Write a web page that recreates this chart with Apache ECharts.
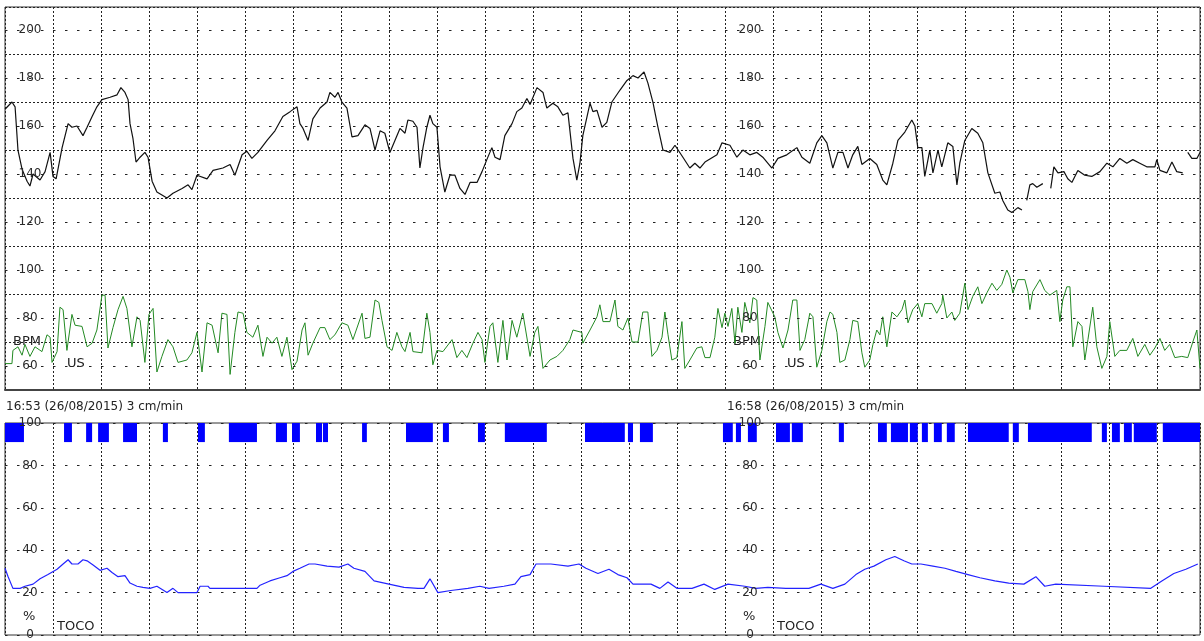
<!DOCTYPE html>
<html>
<head>
<meta charset="utf-8">
<script src="https://cdn.jsdelivr.net/npm/echarts@6.0.0/dist/echarts.min.js"></script>
<style>
html,body{margin:0;padding:0;background:#fff;}
#chart{width:1204px;height:641px;}
</style>
</head>
<body>
<div id="chart"></div>
<script>
// ---- data (time in seconds from 16:53, values in bpm / %) ----
const fhrTickLabels = [60, 80, 100, 120, 140, 160, 180, 200];
const tocoTickLabels = [0, 20, 40, 60, 80, 100];
const timeLabels = ['16:53 (26/08/2015) 3 cm/min', '16:58 (26/08/2015) 3 cm/min'];

const fhrPoints = [
[0,167],[2.9,170],[4.2,168],[5.4,150],[7.1,142],[9.2,137],[10.4,135],[11.7,140],[14.6,137.5],[16.7,141],
[18.8,149],[20,139],[21.3,138],[23.8,151],[26.3,161],[27.9,159.5],[30,160],[32.5,156],[34.2,159.5],[36.3,164],
[38.3,168],[40.4,171],[43.8,172],[46.7,173],[48.3,176],[50,174],[51.3,171],[52.1,161],[53.3,155],[54.6,145],
[56.3,147],[58.3,149],[59.6,147],[61.3,137],[63.3,132.5],[67.5,130],[70,132],[73.8,134],[76.3,135.5],[77.9,133.5],
[80,139.5],[84.2,138],[86.7,141.5],[90.8,142.5],[93.8,144],[95.8,139.5],[98.8,148],[100.8,149.5],[102.9,146.5],[105.4,149],
[109.2,154],[112.5,158],[115.8,164],[118.8,166],[121.7,168],[122.9,161],[124.2,159],[126.3,154],[128.3,163],[131.3,167.5],
[134.2,170],[135.4,174],[137.5,172],[138.8,174],[140.4,170],[142.5,167.5],[144.6,155.5],[147.1,156],[150,160.5],[152.1,159],
[154.2,150],[156.3,158],[158.3,157],[160.4,149],[162.5,154],[164.6,159],[166.7,157],[167.9,162.5],[170,162],[171.7,159.5],
[172.9,142.5],[174.2,151],[175.8,159.5],[177.1,164.5],[178.3,161],[180,159.5],[181.3,143],[183.3,132.5],[185.4,139.5],[187.5,139.5],
[189.6,134],[191.7,131.5],[193.8,136.5],[196.7,136.5],[198.8,141],[200.8,146],[202.9,151],[204.2,147],[206.3,146],[208.3,156],
[211.3,161],[213.3,166],[215.4,167.5],[217.5,171.5],[218.8,169],[221.7,176],[224.2,174],[225.8,167.5],[228.3,169.5],[230.4,168],
[232.5,164.5],[234.6,165.5],[236.7,146.5],[238.3,137.5],[239.6,144.5],[240.8,156],[243.8,169.5],[245,166],[246.7,166.5],[248.8,159.5],
[250.8,161.5],[252.9,170],[256.3,175],[259.2,179],[261.7,181],[263.8,180],[266.3,182.5],[267.9,178],[270,170],[272.1,159.5],
[274.2,150],[277.1,149],[279.2,152],[282.5,147],[285.4,142.5],[287.5,144.5],[289.6,142.5],[291.7,145],[296.7,148],[298.8,153],
[302.1,152],[305,147],[307.5,150],[310.4,148],[313.3,149],[315.8,147],[319.6,142.5],[322.1,146.5],[325.8,148],[330,151],
[332.1,147],[335.4,144.5],[338.3,153],[340.4,156],[342.5,153],[345,142.5],[347.1,149],[349.2,149],[351.3,142.5],[353.3,148],
[355.4,151.5],[357.1,144],[360.4,146.5],[363.3,144],[365.8,137.5],[367.5,135.5],[370,144.5],[372.1,154],[375,157.5],[377.9,162.5],
[379.2,160],[380.4,151],[382.1,151],[383.3,139],[385.4,150],[386.7,140.5],[388.8,150],[390.4,143],[392.9,153],[395,151.5],
[396.7,135.5],[397.9,144.5],[400,154],[402.9,159],[405.4,157],[407.5,153],[409.6,140.5],[412.5,132],[414.6,132.5],[415.8,129],
[417.9,125],[419.6,124],[422.1,126],[423.8,125],[425,null],[425.8,129],[427.1,135.5],[428.3,136],[430,134.5],[432.5,136],
[433.3,null],[435.8,134],[437.1,143],[438.8,140.5],[441.3,141],[442.9,138],[444.6,136.5],[447.1,141.5],[450,139.5],[452.9,139],
[456.3,141],[459.2,144.5],[461.7,143],[464.6,146.5],[467.5,144.5],[470,146],[472.9,144.5],[475.8,143],[479.2,143],[480,146],
[481.3,141.5],[484.2,140.5],[486.3,145],[488.3,141],[490.8,140.5],[491.7,null],[492.9,149],[494.6,146.5],[496.7,146.5],[498,149]
];

const usPoints = [
[0,61],[2.9,61],[3.3,66.5],[5.4,68],[7.1,64.5],[8.3,69],[10.4,64],[12.5,68],[15.4,66],[17.5,73],
[18.8,72],[19.6,61.5],[21.7,66],[22.9,84.5],[24.2,83.5],[25.8,66.5],[27.9,81.5],[29.2,77],[32.1,76.5],[34.2,68],
[36.3,69.5],[38.3,75],[40.4,89.5],[41.7,89.5],[42.9,67.5],[45,76],[47.1,83.5],[49.2,89],[50.8,84],[52.9,68],
[55,80.5],[56.3,79],[58.3,61.5],[60,81.5],[61.7,84],[63.3,57.5],[65.4,64],[67.9,71],[70,68],[72.1,61.5],
[75.8,62.5],[77.9,65.5],[80,74],[82.1,57.5],[84.2,78],[86.3,77],[88.8,65.5],[90.4,82],[92.5,81.5],[93.8,56.5],
[95.8,74],[97.1,82.5],[99.2,82],[100.8,74],[103.3,72],[105.4,77],[107.5,64],[109.2,72],[111.3,69.5],[113.3,72],
[115.4,64],[117.5,72],[119.6,58.5],[121.7,62],[123.8,75],[125,78],[126.3,64.5],[128.3,69.5],[131.3,76],[133.3,76],
[135.4,71],[137.5,73],[140.4,78],[142.9,77],[145,71],[148.8,82],[150,71.5],[152.1,72],[154.2,87.5],[155.8,86.5],
[157.1,79],[159.2,68],[161.3,66.5],[163.3,74],[165.4,68],[166.7,66],[168.8,74],[170,66],[173.8,65.5],[175.8,82],
[177.1,74],[178.3,60.5],[180,66.5],[182.5,66],[186.3,71],[188.3,63.5],[190.4,66.5],[192.5,63.5],[195,69.5],[197.1,74],
[198.8,71],[200,61.5],[202.1,76.5],[203.3,78],[205.4,61.5],[207.5,79],[209.2,62.5],[211.3,79],[213.3,72],[215.8,82],
[218.8,64],[220.8,74],[222.1,76.5],[224.2,59],[227.1,62.5],[230,64],[232.5,66.5],[235.4,71],[236.7,75],[240.4,74],
[240.8,69.5],[243.8,75],[246.7,80.5],[247.9,85.5],[249.2,78.5],[252.1,78.5],[254.2,87.5],[255.4,76.5],[257.5,75],[259.6,80],
[261.3,70],[263.8,70],[265.8,82.5],[267.9,82.5],[269.6,64],[271.7,66.5],[273.8,72],[275,82.5],[276.3,73],[277.9,62.5],
[280,63.5],[282.1,78.5],[283.3,59],[285.4,62.5],[288.3,67.5],[290.4,68],[291.7,63.5],[293.8,63.5],[295.8,72],[297.1,84],
[298.8,76],[300,82],[301.3,76.5],[302.9,84],[304.2,69.5],[305.4,84.5],[307.1,74],[308.3,86.5],[310.4,78],[311.7,88.5],
[313.3,87.5],[314.6,62.5],[316.7,76.5],[317.9,86.5],[320.8,80.5],[322.1,74],[324.2,67.5],[326.3,75],[328.3,87.5],[330,87.5],
[331.3,66.5],[333.3,71],[335.4,82],[336.7,80.5],[338.3,59.5],[340.4,66.5],[342.5,78.5],[343.8,82.5],[345,81.5],[346.7,74],
[347.9,61.5],[350,62.5],[352.1,71],[353.3,79],[355.4,78.5],[357.1,65.5],[358.3,59.5],[360.4,62.5],[361.7,69],[363.3,75],
[364.6,73],[365.8,80.5],[367.5,68],[369.6,82.5],[371.7,80.5],[373.8,83.5],[375,87.5],[376.3,78],[378.3,83.5],[380.4,86],
[382.1,80.5],[383.3,86],[386.3,86],[388.3,82],[390.4,86],[390.8,89.5],[392.5,80],[394.6,82.5],[395.8,79],[397.9,82],
[400,94.5],[401.3,83.5],[403.3,89],[405.4,93],[407.1,86],[409.2,90.5],[411.3,94.5],[413.3,91.5],[415.4,94],[417.5,100],
[418.8,97],[420,90.5],[422.1,96],[425,96],[426.3,91],[427.1,83.5],[428.3,91],[431.3,96],[433.3,91.5],[435.4,89.5],
[438.3,91.5],[439.6,78.5],[440.8,87.5],[442.5,93],[443.8,93],[445,68],[447.1,78.5],[448.8,76.5],[450,62.5],[451.3,71],
[453.3,84.5],[455,68],[457.1,59],[459.2,64],[460.4,78.5],[462.5,64],[464.6,66.5],[467.5,66.5],[470,71.5],[472.1,64],
[475,69],[477.1,64.5],[479.2,67.5],[481.3,71.5],[483.3,66.5],[485.4,69],[487.5,63.5],[490.4,64],[492.9,63.5],[495,70],
[496.7,75],[498,59]
];

const tocoPoints = [
[0,31.5],[1.3,27.5],[3.3,22],[6.3,22],[8.3,23],[11.7,24],[14.6,26.5],[17.9,28.5],[21.7,31],[24.2,33.5],
[26.3,35.5],[27.9,33.5],[30.4,33.5],[32.5,35.5],[34.2,35],[36.7,33],[39.6,30.5],[42.5,31.5],[44.6,29.5],[47.1,27.5],
[50,28],[52.1,24.5],[55,23],[57.5,22.5],[60.4,22],[63.3,23],[67.5,20],[70,22],[72.1,20],[80,20],
[81.3,23],[84.6,23],[85.4,22],[105,22],[106.3,23.5],[110.4,25.5],[114.6,27],[117.5,28],[120,30],[122.9,31.5],
[126.7,33.5],[129.2,33.5],[134.2,32.5],[139.2,32],[142.9,33.5],[145.4,31.5],[150,30],[153.8,25.5],[160,24],[166.3,22.5],
[172.1,22],[174.6,22],[177.1,26.5],[180.4,20],[185.8,21],[192.9,22],[197.9,23],[201.7,22],[207.9,23],[212.5,24],
[215,27.5],[218.8,28.5],[221.3,33.5],[227.5,33.5],[234.6,32.5],[239.2,33.5],[242.1,31.5],[247.1,29],[251.7,31],[255.4,28.5],
[259.2,27],[261.7,24],[269.2,24],[272.9,22],[276.3,25],[280,22],[286.3,22],[291.3,24],[295.8,21.5],[301.3,24],
[308.3,23],[312.9,22],[317.9,22.5],[325.4,22],[335,22],[340,24],[345,22],[350,24],[354.6,28.5],[358.3,31],
[362.1,32.5],[367.1,35.5],[370.8,37],[374.6,35],[377.9,33.5],[381.7,33.5],[386.7,32.5],[391.7,31.5],[396.3,30],[401.3,28.5],
[406.3,27],[412.5,25.5],[418.3,24.5],[424.6,24],[429.6,27.5],[433.3,23],[437.9,24],[458,23],[477.5,22],[482.1,25.5],
[487.1,29],[492.1,31],[497.1,33.5]
];

// movement / event marks along the top of the TOCO panel: [start s, end s]
const eventSpans = [
[0,7.9],[24.6,27.9],[33.8,36.3],[38.8,43.3],[49.2,55],[65.8,67.9],[80.4,83.3],[93.3,105],[112.9,117.5],[119.6,122.9],
[129.6,132.1],[132.5,134.6],[148.8,150.8],[167.1,178.3],[182.5,185],[197.1,200],[208.3,225.8],[241.7,258.3],[259.6,261.7],[264.6,270],
[299.2,303.3],[304.6,306.7],[309.6,313.3],[321.3,327.1],[327.9,332.5],[347.5,349.6],[363.8,367.5],[369.2,376.3],[377.1,380.4],[382.1,384.6],
[387.1,390.4],[392.5,395.8],[401.3,418.3],[420,422.5],[426.3,452.9],[457.1,459.2],[461.3,464.6],[466.3,469.6],[470.4,480],[482.5,498]
];

// ---- styles ----
const FONT = 'DejaVu Sans';
const denseDots = {color: '#222', type: [2, 2], width: 1};
const sparseDots = {color: '#222', type: [2.5, 9.5], width: 1};
const T_MAX = 498, FHR_MIN = 50, FHR_MAX = 209.6;

function labelAxis(gridIndex, min, max, ticks, offset) {
  return {
    type: 'value', gridIndex, min, max, interval: 10, offset, position: 'left',
    axisLine: {show: false, onZero: false}, axisTick: {show: false}, splitLine: {show: false},
    axisLabel: {
      inside: true, margin: 25, align: 'center', color: '#2a2a2a',
      fontFamily: FONT, fontSize: 12,
      formatter: v => ticks.indexOf(Math.round(v)) >= 0 && Math.abs(v - Math.round(v)) < 1e-6 ? String(Math.round(v)) : ''
    },
    z: 5
  };
}

const textStyle = (s, size) => ({text: s, fill: '#222', font: (size || 12) + 'px "' + FONT + '"'});

const option = {
  animation: false,
  backgroundColor: '#fff',
  grid: [
    {left: 5, right: 4, top: 7, height: 383, show: true, borderColor: '#333', borderWidth: 1},
    {left: 5, right: 4, top: 423, height: 217, show: true, borderColor: '#333', borderWidth: 1}
  ],
  xAxis: [0, 1].map(g => ({
    type: 'value', gridIndex: g, min: 0, max: T_MAX, interval: 20,
    axisLine: {show: g === 0, onZero: false, lineStyle: {color: '#444', width: 2}},
    axisTick: {show: false}, axisLabel: {show: false},
    splitLine: {show: true, lineStyle: denseDots}
  })),
  yAxis: [
    {type: 'value', gridIndex: 0, min: FHR_MIN, max: FHR_MAX, interval: 20, position: 'left',
     axisLine: {show: false}, axisTick: {show: false}, axisLabel: {show: false},
     splitLine: {show: true, lineStyle: denseDots}},
    labelAxis(0, FHR_MIN, FHR_MAX, fhrTickLabels, 0),
    labelAxis(0, FHR_MIN, FHR_MAX, fhrTickLabels, -720),
    {type: 'value', gridIndex: 1, min: 0, max: 100, interval: 20, position: 'left',
     axisLine: {show: false}, axisTick: {show: false}, axisLabel: {show: false},
     splitLine: {show: true, lineStyle: sparseDots}},
    labelAxis(1, 0, 100, tocoTickLabels, 0),
    labelAxis(1, 0, 100, tocoTickLabels, -720)
  ],
  series: [
    {type: 'line', xAxisIndex: 0, yAxisIndex: 0, data: [[0, null]], z: 1, silent: true,
     markLine: {silent: true, symbol: 'none', label: {show: false}, lineStyle: sparseDots,
       data: fhrTickLabels.map(v => ({yAxis: v}))}},
    {name: 'US', type: 'line', xAxisIndex: 0, yAxisIndex: 0, data: usPoints, showSymbol: false,
     connectNulls: false, lineStyle: {color: '#238a23', width: 1}, z: 3},
    {name: 'FHR', type: 'line', xAxisIndex: 0, yAxisIndex: 0, data: fhrPoints, showSymbol: false,
     connectNulls: false, lineStyle: {color: '#111', width: 1.2}, z: 4},
    {name: 'TOCO', type: 'line', xAxisIndex: 1, yAxisIndex: 3, data: tocoPoints, showSymbol: false,
     lineStyle: {color: '#2323ff', width: 1.2}, z: 3},
    {name: 'Events', type: 'custom', xAxisIndex: 1, yAxisIndex: 3, data: eventSpans,
     encode: {x: [0, 1]}, z: 2,
     renderItem: (params, api) => {
       const a = api.coord([api.value(0), 100]);
       const b = api.coord([api.value(1), 91]);
       return {type: 'rect', shape: {x: a[0], y: a[1], width: Math.max(1, b[0] - a[0]), height: b[1] - a[1]},
               style: {fill: '#0000ff'}};
     }}
  ],
  graphic: [
    {type: 'text', left: 6, top: 401, style: textStyle(timeLabels[0])},
    {type: 'text', left: 727, top: 401, style: textStyle(timeLabels[1])},
    {type: 'text', left: 13, top: 335, style: textStyle('BPM', 13)},
    {type: 'text', left: 67, top: 357, style: textStyle('US', 13)},
    {type: 'text', left: 733, top: 335, style: textStyle('BPM', 13)},
    {type: 'text', left: 787, top: 357, style: textStyle('US', 13)},
    {type: 'text', left: 23, top: 610, style: textStyle('%', 13)},
    {type: 'text', left: 57, top: 620, style: textStyle('TOCO', 13)},
    {type: 'text', left: 743, top: 610, style: textStyle('%', 13)},
    {type: 'text', left: 777, top: 620, style: textStyle('TOCO', 13)}
  ]
};

const chart = echarts.init(document.getElementById('chart'), null, {renderer: 'canvas'});
chart.setOption(option);
</script>
</body>
</html>
